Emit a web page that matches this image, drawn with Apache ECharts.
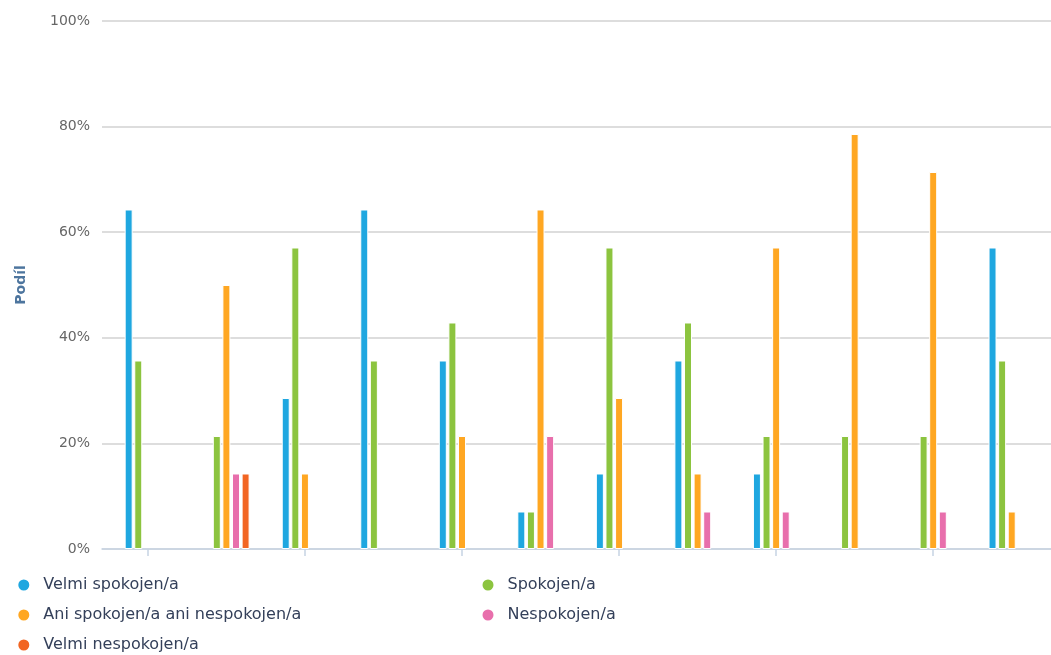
<!DOCTYPE html>
<html>
<head>
<meta charset="utf-8">
<script src="https://cdn.jsdelivr.net/npm/echarts@6/dist/echarts.min.js"></script>
<style>
  html, body { margin: 0; padding: 0; background: #fff; }
  #chart { width: 1051px; height: 655px; }
</style>
</head>
<body>
<div id="chart"></div>
<script>
// Survey groups (unlabelled on the axis)
const categories = ['1', '2', '3', '4', '5', '6', '7', '8', '9', '10', '11', '12'];

// Share of answers per group, in percent
const velmiSpokojen    = [64.3, 0, 28.6, 64.3, 35.7, 7.1, 14.3, 35.7, 14.3, 0, 0, 57.1];
const spokojen         = [35.7, 21.4, 57.1, 35.7, 42.9, 7.1, 57.1, 42.9, 21.4, 21.4, 21.4, 35.7];
const aniAni           = [0, 50, 14.3, 0, 21.4, 64.3, 28.6, 14.3, 57.1, 78.6, 71.4, 7.1];
const nespokojen       = [0, 14.3, 0, 0, 0, 21.4, 0, 7.1, 7.1, 0, 7.1, 0];
const velmiNespokojen  = [0, 14.3, 0, 0, 0, 0, 0, 0, 0, 0, 0, 0];

const seriesNames = [
  'Velmi spokojen/a',
  'Spokojen/a',
  'Ani spokojen/a ani nespokojen/a',
  'Nespokojen/a',
  'Velmi nespokojen/a'
];
const seriesValues = [velmiSpokojen, spokojen, aniAni, nespokojen, velmiNespokojen];
const seriesColors = ['#1fa7e0', '#8cc43f', '#ffa722', '#e86fac', '#f26522'];

// y-axis ticks
const yMin = 0, yMax = 100, yStep = 20;

const chart = echarts.init(document.getElementById('chart'));

const legendText = {
  color: '#34405a',
  fontSize: 16,
  fontFamily: 'DejaVu Sans',
  lineHeight: 16,
  padding: [0, 0, 0, 8]
};

const legendCommon = {
  orient: 'vertical', top: 572, height: 90,
  icon: 'circle', itemWidth: 13, itemHeight: 13, itemGap: 14,
  textStyle: legendText
};

const option = {
  animation: false,
  backgroundColor: '#ffffff',
  grid: [
    // frame: gridlines, y labels, baseline
    { left: 102, top: 21, height: 528, right: 0 },
    // bars
    { left: 108.6, top: 21, height: 528, width: 945.6 }
  ],
  xAxis: [
    {
      gridIndex: 0, type: 'value', min: 0, max: 1,
      axisLine: { show: true, lineStyle: { color: '#c6d3e3', width: 1.5 } },
      axisTick: { show: false }, axisLabel: { show: false }, splitLine: { show: false }
    },
    {
      gridIndex: 1, type: 'category', data: categories, boundaryGap: true,
      axisLine: { show: false },
      axisTick: { show: true, alignWithLabel: true, interval: 1, length: 7,
                  lineStyle: { color: '#c6d3e3', width: 1.5 } },
      axisLabel: { show: false },
      splitLine: { show: false }
    }
  ],
  yAxis: [
    {
      gridIndex: 0, type: 'value', min: yMin, max: yMax, interval: yStep,
      name: 'Podíl', nameLocation: 'middle', nameGap: 74, nameRotate: 90,
      nameTextStyle: { color: '#4d759e', fontWeight: 'bold', fontSize: 14, fontFamily: 'DejaVu Sans' },
      axisLine: { show: false }, axisTick: { show: false },
      axisLabel: { formatter: '{value}%', color: '#666666', fontSize: 14, fontFamily: 'DejaVu Sans', margin: 12 },
      splitLine: { show: true, lineStyle: { color: '#d2d2d2', width: 1.5 } }
    },
    {
      gridIndex: 1, type: 'value', min: yMin, max: yMax, interval: yStep,
      show: false, splitLine: { show: false }
    }
  ],
  legend: [
    Object.assign({}, legendCommon, {
      left: 11.3,
      data: [seriesNames[0], seriesNames[2], seriesNames[4]]
    }),
    Object.assign({}, legendCommon, {
      left: 475.5,
      data: [seriesNames[1], seriesNames[3]]
    })
  ],
  series: seriesNames.map((name, i) => ({
    name: name,
    type: 'bar',
    xAxisIndex: 1,
    yAxisIndex: 1,
    barWidth: 8,
    barGap: '20%',
    itemStyle: { color: seriesColors[i], borderColor: '#ffffff', borderWidth: 1 },
    emphasis: { disabled: true },
    data: seriesValues[i].map(v => (v === 0 ? null : v))
  }))
};

chart.setOption(option);
</script>
</body>
</html>
